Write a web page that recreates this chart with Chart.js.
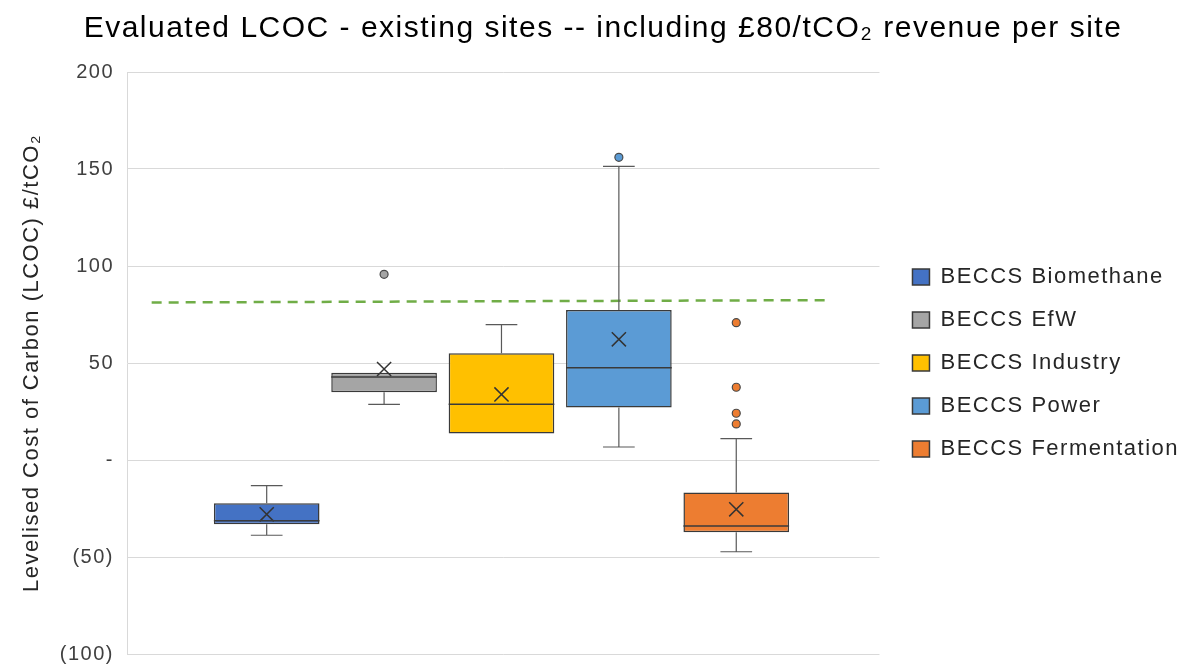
<!DOCTYPE html>
<html>
<head>
<meta charset="utf-8">
<script src="https://cdn.jsdelivr.net/npm/chart.js@4/dist/chart.umd.min.js"></script>
<style>
  html, body { margin: 0; padding: 0; background: #fff; }
  #wrap { width: 1201px; height: 668px; }
</style>
</head>
<body>
<div id="wrap"><canvas id="lcocChart"></canvas></div>
<script>
// Data (£/tCO2)
const categories = ['BECCS Biomethane', 'BECCS EfW', 'BECCS Industry', 'BECCS Power', 'BECCS Fermentation'];
const colours = ['#4472C4', '#A5A5A5', '#FFC000', '#5B9BD5', '#ED7D31'];
const whiskerLow = [-38.8, 28.7, 13.7, 6.7, -47.3];
const q1 = [-33.1, 34.9, 13.7, 27.1, -37.3];
const median = [-31.3, 42.8, 28.7, 47.6, -34.0];
const q3 = [-22.3, 45.0, 55.0, 77.3, -16.8];
const whiskerHigh = [-13.2, 45.0, 69.8, 151.4, 11.0];
const mean = [-28.0, 46.9, 33.8, 62.2, -25.4];
const outliers = [[], [95.7], [], [156.0], [70.8, 37.5, 24.1, 18.6]];

// £80/tCO2 revenue reference line (dashed green)
const revenueLineX = [0.02, 5.76];
const revenueLineY = [81.2, 82.4];

// y axis ticks
const yTicks = [-100, -50, 0, 50, 100, 150, 200];
const yTickLabels = ['(100)', '(50)', '-', '50', '100', '150', '200'];

// slot of each box along the (hidden) x axis
const positions = categories.map((c, i) => i + 1);

const FONT = "'Liberation Sans', Arial, sans-serif";

// box datasets, one per technology (first, so the legend picks them up)
var datasets = categories.map((name, i) => ({
  type: 'bar',
  label: name,
  data: [{ x: positions[i], y: [q1[i], q3[i]] }],
  backgroundColor: colours[i],
  borderColor: '#3a3a3a',
  borderWidth: 1.5,
  borderSkipped: false,
  grouped: false,
  categoryPercentage: 1,
  barPercentage: 0.9,
  order: 3
}));

// mean markers
datasets.push({
  type: 'scatter',
  label: 'mean',
  data: positions.map((x, i) => ({ x: x, y: mean[i] })),
  pointStyle: 'crossRot',
  pointRadius: 10,
  borderColor: '#333333',
  borderWidth: 1.5,
  order: 1
});

// outliers
datasets.push({
  type: 'scatter',
  label: 'outliers',
  data: outliers.flatMap((vals, i) => vals.map(v => ({ x: positions[i], y: v }))),
  pointStyle: 'circle',
  pointRadius: 4,
  pointBackgroundColor: outliers.flatMap((vals, i) => vals.map(() => colours[i])),
  pointBorderColor: '#4a4a4a',
  pointBorderWidth: 1.2,
  order: 1
});

// revenue line
datasets.push({
  type: 'line',
  label: 'revenue',
  data: revenueLineX.map((x, k) => ({ x: x, y: revenueLineY[k] })),
  borderColor: '#70AD47',
  borderWidth: 2.5,
  borderDash: [10, 7],
  pointRadius: 0,
  fill: false,
  order: 2
});

// whiskers and medians
const boxDecor = {
  id: 'boxDecor',
  afterDatasetsDraw(chart) {
    const ctx = chart.ctx;
    const yScale = chart.scales.y;
    ctx.save();
    categories.forEach((name, i) => {
      const el = chart.getDatasetMeta(i).data[0];
      if (!el) return;
      const x = el.x;
      const w = el.width;
      const cap = w * 0.15;
      const yq1 = yScale.getPixelForValue(q1[i]);
      const yq3 = yScale.getPixelForValue(q3[i]);
      const yLo = yScale.getPixelForValue(whiskerLow[i]);
      const yHi = yScale.getPixelForValue(whiskerHigh[i]);
      const yMed = yScale.getPixelForValue(median[i]);

      ctx.strokeStyle = '#595959';
      ctx.lineWidth = 1.2;
      ctx.beginPath();
      if (whiskerHigh[i] > q3[i]) {
        ctx.moveTo(x, yq3); ctx.lineTo(x, yHi);
        ctx.moveTo(x - cap, yHi); ctx.lineTo(x + cap, yHi);
      }
      if (whiskerLow[i] < q1[i]) {
        ctx.moveTo(x, yq1); ctx.lineTo(x, yLo);
        ctx.moveTo(x - cap, yLo); ctx.lineTo(x + cap, yLo);
      }
      ctx.stroke();

      ctx.strokeStyle = '#3a3a3a';
      ctx.lineWidth = 1.5;
      ctx.beginPath();
      ctx.moveTo(x - w / 2, yMed); ctx.lineTo(x + w / 2, yMed);
      ctx.stroke();
    });
    ctx.restore();
  }
};

// the reference text is set wide, so open the letters up a little
const textSpacing = {
  id: 'textSpacing',
  beforeLayout(chart) { chart.ctx.letterSpacing = '1.5px'; },
  beforeDraw(chart) { chart.ctx.letterSpacing = '1.5px'; }
};

const canvasLcoc = document.getElementById('lcocChart');
const ctxLcoc = canvasLcoc.getContext('2d');

const lcocChart = new Chart(ctxLcoc, {
  data: {
    datasets: datasets
  },
  options: {
    responsive: true,
    maintainAspectRatio: false,
    animation: false,
    layout: {
      padding: { left: 17, right: 12, top: 0, bottom: 0 }
    },
    plugins: {
      title: {
        display: true,
        text: 'Evaluated LCOC - existing sites -- including £80/tCO₂ revenue per site',
        color: '#000000',
        font: { family: FONT, size: 30, weight: 'normal' },
        padding: { top: 11, bottom: 25 }
      },
      legend: {
        position: 'right',
        align: 'center',
        fullSize: false,
        maxWidth: 400,
        labels: {
          color: '#262626',
          font: { family: FONT, size: 22 },
          boxWidth: 17,
          boxHeight: 16,
          padding: 21,
          filter: item => item.datasetIndex < categories.length
        }
      },
      tooltip: { enabled: false }
    },
    scales: {
      x: {
        type: 'linear',
        display: false,
        offset: false,
        min: -0.19,
        max: 6.22,
        afterBuildTicks: scale => {
          scale.ticks = positions.map(v => ({ value: v }));
        }
      },
      y: {
        type: 'linear',
        position: 'left',
        min: -100,
        max: 200,
        afterBuildTicks: scale => {
          scale.ticks = yTicks.map(v => ({ value: v }));
        },
        afterFit: scale => {
          scale.width = 110;
        },
        ticks: {
          color: '#404040',
          font: { family: FONT, size: 20, lineHeight: 0.1 },
          padding: 13,
          callback: value => yTickLabels[yTicks.indexOf(value)]
        },
        grid: {
          color: '#d9d9d9',
          lineWidth: 1,
          drawTicks: false
        },
        border: {
          display: true,
          color: '#d9d9d9'
        },
        title: {
          display: true,
          text: 'Levelised Cost of Carbon (LCOC) £/tCO₂',
          color: '#262626',
          font: { family: FONT, size: 22 },
          padding: { top: 2, bottom: 0 }
        }
      },
      yR: {
        type: 'linear',
        position: 'right',
        display: true,
        ticks: { display: false },
        grid: { display: false },
        border: { display: false },
        afterFit: scale => {
          scale.width = 12;
        }
      }
    }
  },
  plugins: [textSpacing, boxDecor]
});
</script>
</body>
</html>
